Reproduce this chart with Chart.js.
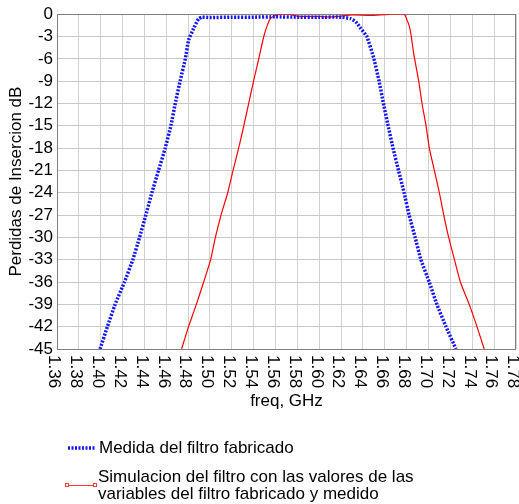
<!DOCTYPE html>
<html>
<head>
<meta charset="utf-8">
<script src="https://cdn.jsdelivr.net/npm/chart.js@4.4.1/dist/chart.umd.min.js"></script>
<style>
  html, body { margin: 0; padding: 0; background: #fff; }
  #chart { display: block; }
</style>
</head>
<body>
<canvas id="chart" width="519" height="504"></canvas>
<script>
// Perdidas de insercion - medida vs simulacion
const xTickLabels = ['1.36','1.38','1.40','1.42','1.44','1.46','1.48','1.50','1.52','1.54','1.56',
  '1.58','1.60','1.62','1.64','1.66','1.68','1.70','1.72','1.74','1.76','1.78'];

const measFreq = [1.3994, 1.4061, 1.4132, 1.4217, 1.4294, 1.4355, 1.4413, 1.4468, 1.4529, 1.4590, 1.4642,
  1.4682, 1.4728, 1.4774, 1.4804, 1.4850, 1.4896, 1.4927, 1.50, 1.52, 1.54, 1.56, 1.58, 1.60, 1.62,
  1.6287, 1.6333, 1.6379, 1.6435, 1.6500, 1.6547, 1.6587, 1.6630, 1.6675, 1.6725, 1.6776, 1.6822,
  1.6877, 1.6930, 1.7006, 1.7076, 1.7159, 1.7251];
const measDb = [-45, -42, -39, -36, -33, -30, -27, -24, -21, -18, -15,
  -12, -8.9, -6, -3.5, -1.9, -0.6, -0.4, -0.45, -0.4, -0.4, -0.35, -0.4, -0.4, -0.4,
  -0.6, -1.0, -1.9, -3, -6, -9, -12, -15, -18, -21, -24, -27,
  -30, -33, -36, -39, -42, -45];

const simFreq = [1.4740, 1.4804, 1.4875, 1.4942, 1.5006, 1.5049, 1.5101, 1.5162, 1.5211, 1.5257, 1.5294,
  1.5354, 1.5400, 1.5446, 1.5492, 1.5524, 1.5553, 1.5600, 1.5646, 1.5720, 1.5800, 1.5900, 1.6000,
  1.6100, 1.6200, 1.6300, 1.6475, 1.6660, 1.6740, 1.6776, 1.6790, 1.6803, 1.6822, 1.6840, 1.6864,
  1.6910, 1.6940, 1.6977, 1.7007, 1.7053, 1.7099, 1.7139, 1.7184, 1.7237, 1.7291, 1.7372, 1.7443, 1.7509];
const simDb = [-45, -42, -39, -36, -33, -30, -27, -24, -21, -18.3, -16,
  -12, -8.9, -6, -3, -1.5, -0.6, -0.15, 0, 0, -0.25, -0.3, -0.3,
  -0.35, -0.25, -0.1, -0.15, 0, 0.05, 0, -0.3, -0.8, -1.5, -2.8, -5.3,
  -9, -12, -15, -18, -21, -24, -27, -30, -33, -36, -39, -42, -45];

const legendLabels = [
  ['Medida del filtro fabricado'],
  ['Simulacion del filtro con las valores de las', 'variables del filtro fabricado y medido']
];
const xTitle = 'freq, GHz';
const yTitle = 'Perdidas de Insercion dB';

const FONT = '"Liberation Sans", Arial, sans-serif';
const toPoints = (xs, ys) => xs.map((x, i) => ({ x: x, y: ys[i] }));

// frame, rotated x labels, x title and legend
const extrasPlugin = {
  id: 'extras',
  beforeDatasetsDraw(chart) {
    const ctx = chart.ctx;
    const a = chart.chartArea;
    ctx.save();
    ctx.strokeStyle = '#808080';
    ctx.lineWidth = 1;
    ctx.strokeRect(Math.round(a.left) + 0.5, Math.round(a.top) + 0.5,
      Math.round(a.right - a.left) - 1, Math.round(a.bottom - a.top));
    ctx.restore();
  },
  afterDatasetsDraw(chart) {
    const ctx = chart.ctx;
    const a = chart.chartArea;
    const xs = chart.scales.x;
    ctx.save();
    ctx.fillStyle = '#000';
    ctx.font = '17px ' + FONT;
    ctx.textAlign = 'left';
    ctx.textBaseline = 'middle';
    xTickLabels.forEach(lbl => {
      const px = xs.getPixelForValue(parseFloat(lbl));
      ctx.save();
      ctx.translate(px, a.bottom + 6);
      ctx.rotate(Math.PI / 2);
      ctx.fillText(lbl, 0, 3);
      ctx.restore();
    });

    ctx.textAlign = 'center';
    ctx.fillText(xTitle, (a.left + a.right) / 2, 401);

    // legend
    const ds = chart.data.datasets;
    ctx.save();
    ctx.strokeStyle = ds[0].borderColor;
    ctx.lineWidth = ds[0].borderWidth;
    ctx.setLineDash(ds[0].borderDash);
    ctx.beginPath(); ctx.moveTo(68, 448); ctx.lineTo(95, 448); ctx.stroke();
    ctx.restore();
    ctx.textAlign = 'left';
    ctx.fillText(legendLabels[0][0], 99, 448);

    ctx.save();
    ctx.strokeStyle = '#ff3b3b';
    ctx.lineWidth = 1;
    ctx.setLineDash([]);
    ctx.beginPath(); ctx.moveTo(69, 485.5); ctx.lineTo(93, 485.5); ctx.stroke();
    ctx.strokeRect(65.5, 483.5, 3, 3);
    ctx.strokeRect(93.5, 483.5, 3, 3);
    ctx.restore();
    ctx.fillText(legendLabels[1][0], 98, 477);
    ctx.fillText(legendLabels[1][1], 98, 494);
    ctx.restore();
  }
};

new Chart(document.getElementById('chart'), {
  type: 'line',
  data: {
    datasets: [
      { label: legendLabels[0].join(' '), data: toPoints(measFreq, measDb),
        borderColor: '#1414ff', borderWidth: 3.5, borderDash: [2, 1.5], pointRadius: 0, tension: 0.15 },
      { label: legendLabels[1].join(' '), data: toPoints(simFreq, simDb),
        borderColor: '#ff0000', borderWidth: 1.2, pointRadius: 0, tension: 0.2 }
    ]
  },
  options: {
    responsive: false,
    devicePixelRatio: 1,
    animation: false,
    layout: { padding: { left: 0, top: 14, right: 3, bottom: 0 } },
    plugins: { legend: { display: false }, tooltip: { enabled: false } },
    scales: {
      x: {
        type: 'linear', min: 1.36, max: 1.78,
        afterBuildTicks: s => { s.ticks = xTickLabels.map(v => ({ value: parseFloat(v) })); },
        afterFit: s => { s.height = 155; },
        ticks: { display: false },
        grid: { color: '#d2d2d2', drawTicks: false },
        border: { display: false }
      },
      y: {
        min: -45, max: 0,
        afterFit: s => { s.width = 57; },
        ticks: { stepSize: 3, autoSkip: false, color: '#000', padding: 4, font: { family: FONT, size: 17 } },
        grid: { color: '#c8c8c8', drawTicks: false },
        border: { display: false },
        title: { display: true, text: yTitle, color: '#000', padding: { top: 6, bottom: 0 },
          font: { family: FONT, size: 17 } }
      }
    }
  },
  plugins: [extrasPlugin]
});
</script>
</body>
</html>
